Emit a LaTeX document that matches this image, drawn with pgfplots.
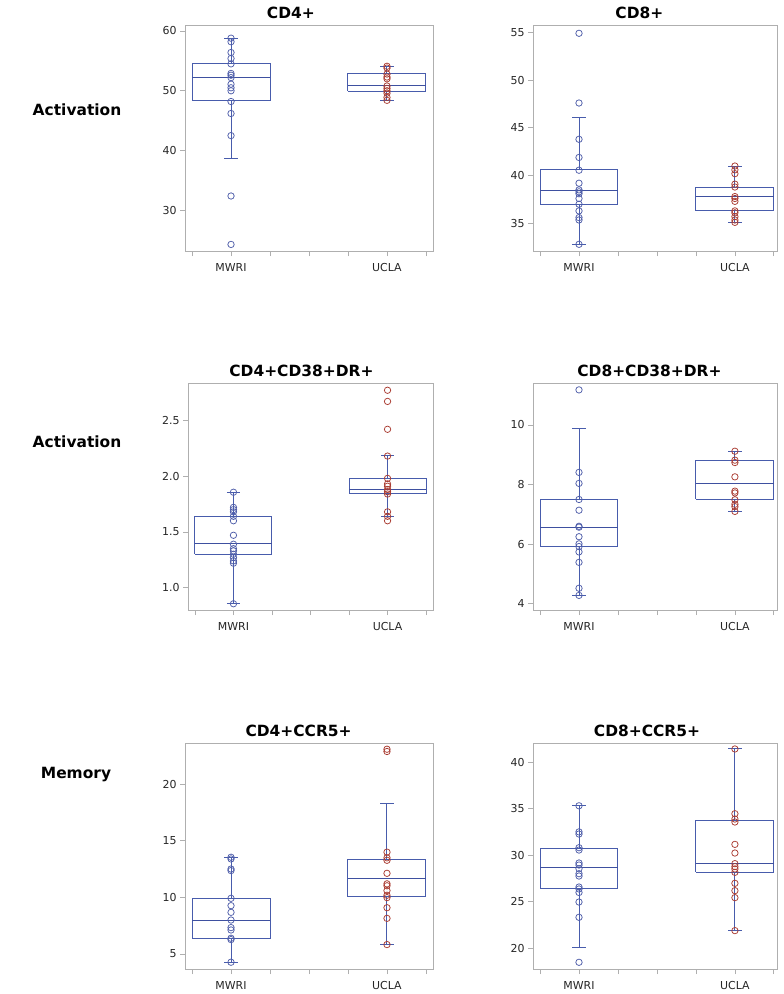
\documentclass[border=0pt]{standalone}
\usepackage{fontspec}
\setmainfont{DejaVu Sans}
\usepackage{pgfplots}
\pgfplotsset{compat=1.18}
\definecolor{boxc}{RGB}{72,92,172}
\definecolor{medc}{RGB}{62,80,160}
\definecolor{ptb}{RGB}{80,95,170}
\definecolor{ptr}{RGB}{170,60,50}
\definecolor{framec}{RGB}{175,175,175}
\pgfplotsset{
  panel/.style={
    scale only axis, anchor=north west, clip=false,
    axis line style={framec, line width=0.8bp},
    xmin=0.705, xmax=2.295,
    xtick={1,2}, xticklabels={MWRI,UCLA},
    extra x ticks={0.75,1.25,1.5,1.75,2.25}, extra x tick labels={},
    extra x tick style={tick style={framec, line width=0.8bp}},
    tick align=outside, xtick pos=bottom, ytick pos=left,
    major tick length=5bp,
    tick style={framec, line width=0.8bp},
    tick label style={font=\fontsize{11}{13}\selectfont, text=black!85},
    xticklabel style={yshift=-4bp},
    /pgf/number format/assume math mode=true,
    title style={font=\bfseries\fontsize{15.5}{18}\selectfont, anchor=base, yshift=1bp},
  },
  bl/.style={draw=boxc, line width=1bp, mark=none, solid},
  ml/.style={draw=medc, line width=1bp, mark=none, solid},
  pm/.style={only marks, mark=o, mark size=3.2bp, draw=ptb, mark options={line width=0.75bp, draw=ptb}},
  pu/.style={only marks, mark=o, mark size=3.2bp, draw=ptr, mark options={line width=0.75bp, draw=ptr}},
}
% box at position 1: lower whisker, q1, median, q3, upper whisker
\newcommand{\bxA}[5]{%
\addplot[bl] coordinates {(1,#1)(1,#2)};
\addplot[bl] coordinates {(1,#4)(1,#5)};
\addplot[bl] coordinates {(0.9575,#1)(1.0425,#1)};
\addplot[bl] coordinates {(0.9575,#5)(1.0425,#5)};
\addplot[bl] coordinates {(0.75,#2)(1.25,#2)(1.25,#4)(0.75,#4)(0.75,#2)};
\addplot[ml] coordinates {(0.75,#3)(1.25,#3)};}
\newcommand{\bxB}[5]{%
\addplot[bl] coordinates {(2,#1)(2,#2)};
\addplot[bl] coordinates {(2,#4)(2,#5)};
\addplot[bl] coordinates {(1.9575,#1)(2.0425,#1)};
\addplot[bl] coordinates {(1.9575,#5)(2.0425,#5)};
\addplot[bl] coordinates {(1.75,#2)(2.25,#2)(2.25,#4)(1.75,#4)(1.75,#2)};
\addplot[ml] coordinates {(1.75,#3)(2.25,#3)};}
\begin{document}
\begin{tikzpicture}
\path[use as bounding box] (0,0) rectangle (784bp,-994bp);
\fill[white] (0,0) rectangle (784bp,-994bp);
\node[font=\bfseries\fontsize{15.5}{18}\selectfont] at (77bp,-110bp) {Activation};
\node[font=\bfseries\fontsize{15.5}{18}\selectfont] at (77bp,-442bp) {Activation};
\node[font=\bfseries\fontsize{15.5}{18}\selectfont] at (76bp,-775bp) {Memory};

% P1 CD4+
\begin{axis}[panel, at={(185bp,-25bp)}, width=248bp, height=226bp,
  ymin=23.2, ymax=61.0, ytick={30,40,50,60},
  title={CD4+}, title style={at={(0.427,1)}}]
\bxA{38.7}{48.29}{52.25}{54.48}{58.77}
\bxB{48.4}{49.9}{50.96}{52.86}{54.09}
\addplot[pm] coordinates {(1,58.8)(1,58.2)(1,56.4)(1,55.4)(1,54.5)(1,52.9)(1,52.6)(1,52.2)(1,51.1)(1,50.5)(1,50.0)(1,48.2)(1,46.2)(1,42.5)(1,32.4)(1,24.3)};
\addplot[pu] coordinates {(2,54.1)(2,53.8)(2,52.8)(2,52.3)(2,52.0)(2,50.8)(2,50.4)(2,50.0)(2,49.6)(2,48.9)(2,48.4)};
\end{axis}

% P2 CD8+
\begin{axis}[panel, at={(533bp,-25bp)}, width=244bp, height=226bp, xmax=2.27,
  ymin=32.1, ymax=55.77, ytick={35,40,45,50,55},
  title={CD8+}, title style={at={(0.436,1)}}]
\bxA{32.8}{37.0}{38.42}{40.6}{46.06}
\bxB{35.07}{36.3}{37.76}{38.7}{40.94}
\addplot[pm] coordinates {(1,54.9)(1,47.6)(1,43.8)(1,41.9)(1,40.56)(1,39.2)(1,38.5)(1,38.3)(1,38.1)(1,37.6)(1,37.0)(1,36.3)(1,35.6)(1,35.35)(1,32.8)};
\addplot[pu] coordinates {(2,41.0)(2,40.6)(2,40.2)(2,39.1)(2,38.8)(2,37.8)(2,37.6)(2,37.3)(2,36.3)(2,36.1)(2,35.7)(2,35.35)(2,35.1)};
\end{axis}

% P3 CD4+CD38+DR+
\begin{axis}[panel, at={(188bp,-383bp)}, width=245bp, height=227bp,
  ymin=0.80, ymax=2.835, ytick={1.0,1.5,2.0,2.5},
  yticklabel style={/pgf/number format/.cd, fixed, fixed zerofill, precision=1},
  title={CD4+CD38+DR+}, title style={at={(0.463,1)}}]
\bxA{0.856}{1.30}{1.395}{1.635}{1.856}
\bxB{1.635}{1.84}{1.877}{1.98}{2.186}
\addplot[pm] coordinates {(1,1.856)(1,1.72)(1,1.70)(1,1.68)(1,1.64)(1,1.60)(1,1.47)(1,1.39)(1,1.35)(1,1.33)(1,1.30)(1,1.27)(1,1.24)(1,1.22)(1,0.856)};
\addplot[pu] coordinates {(2,2.77)(2,2.67)(2,2.42)(2,2.18)(2,1.98)(2,1.93)(2,1.91)(2,1.88)(2,1.86)(2,1.84)(2,1.68)(2,1.64)(2,1.60)};
\end{axis}

% P4 CD8+CD38+DR+
\begin{axis}[panel, at={(533bp,-383bp)}, width=244bp, height=227bp, xmax=2.27,
  ymin=3.79, ymax=11.41, ytick={4,6,8,10},
  title={CD8+CD38+DR+}, title style={at={(0.477,1)}}]
\bxA{4.28}{5.92}{6.57}{7.50}{9.88}
\bxB{7.10}{7.51}{8.02}{8.82}{9.11}
\addplot[pm] coordinates {(1,11.18)(1,8.41)(1,8.04)(1,7.50)(1,7.14)(1,6.60)(1,6.57)(1,6.25)(1,6.01)(1,5.92)(1,5.74)(1,5.39)(1,4.52)(1,4.28)};
\addplot[pu] coordinates {(2,9.12)(2,8.82)(2,8.74)(2,8.26)(2,7.78)(2,7.72)(2,7.49)(2,7.34)(2,7.26)(2,7.10)};
\end{axis}

% P5 CD4+CCR5+
\begin{axis}[panel, at={(185bp,-743bp)}, width=248bp, height=226bp,
  ymin=3.67, ymax=23.65, ytick={5,10,15,20},
  title={CD4+CCR5+}, title style={at={(0.458,1)}}]
\bxA{4.27}{6.39}{7.95}{9.86}{13.49}
\bxB{5.83}{10.07}{11.66}{13.37}{18.32}
\addplot[pm] coordinates {(1,13.55)(1,13.4)(1,12.51)(1,12.37)(1,9.92)(1,9.27)(1,8.68)(1,8.0)(1,7.33)(1,7.12)(1,6.39)(1,6.27)(1,4.27)};
\addplot[pu] coordinates {(2,23.1)(2,22.9)(2,14.0)(2,13.5)(2,13.28)(2,12.13)(2,11.2)(2,11.03)(2,10.6)(2,10.19)(2,9.98)(2,9.09)(2,8.15)(2,5.83)};
\end{axis}

% P6 CD8+CCR5+
\begin{axis}[panel, at={(533bp,-743bp)}, width=244bp, height=226bp, xmax=2.27,
  ymin=17.78, ymax=42.04, ytick={20,25,30,35,40},
  title={CD8+CCR5+}, title style={at={(0.467,1)}}]
\bxA{20.04}{26.44}{28.66}{30.73}{35.31}
\bxB{21.9}{28.19}{29.09}{33.74}{41.4}
\addplot[pm] coordinates {(1,35.3)(1,32.5)(1,32.27)(1,30.8)(1,30.55)(1,29.16)(1,28.94)(1,28.55)(1,28.01)(1,27.76)(1,26.58)(1,26.37)(1,26.0)(1,24.97)(1,23.33)(1,18.5)};
\addplot[pu] coordinates {(2,41.4)(2,34.45)(2,33.88)(2,33.56)(2,31.16)(2,30.23)(2,29.09)(2,28.77)(2,28.52)(2,28.16)(2,26.98)(2,26.19)(2,25.44)(2,21.9)};
\end{axis}
\end{tikzpicture}
\end{document}
